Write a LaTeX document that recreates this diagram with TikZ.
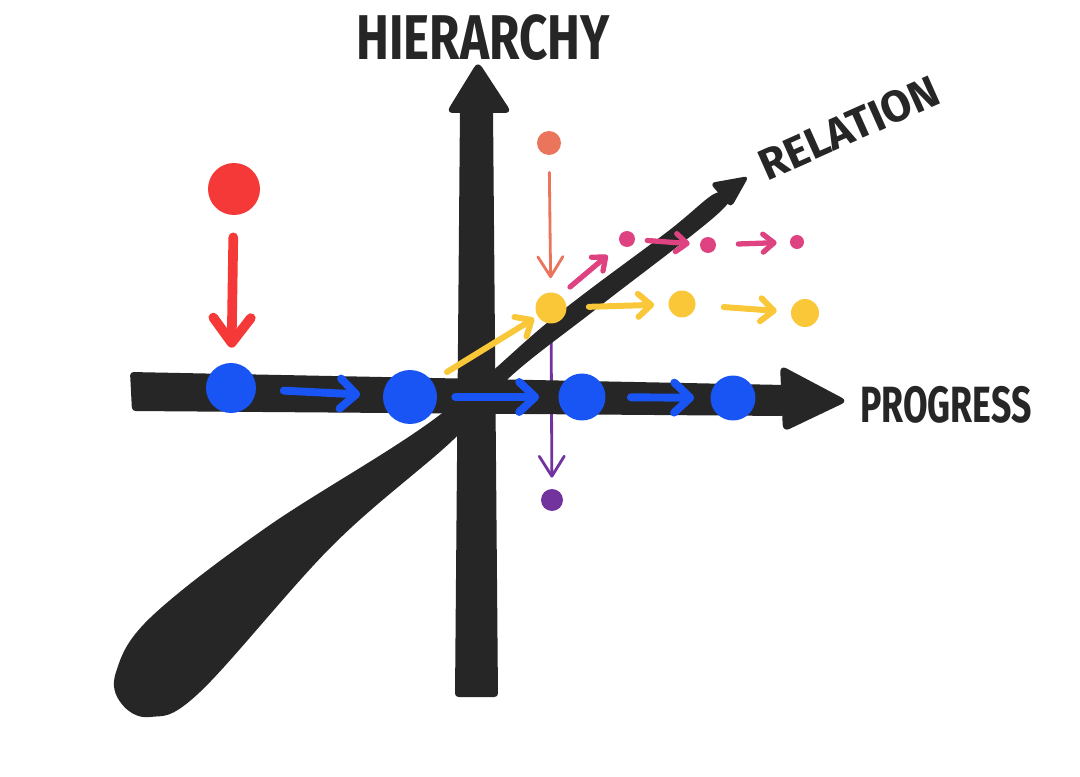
\documentclass[tikz,border=0pt]{standalone}
\usepackage{fontspec}
\usepackage{graphicx}
\usetikzlibrary{arrows.meta}
\newfontfamily\handfont{Fira Sans}
\pgfdeclarelayer{under}
\pgfsetlayers{under,main}
\tikzset{dot/.style = {circle, fill=#1, inner sep=0pt},
         hand/.style = {line cap=round, line join=round},
         bluearrow/.style = {hand, mblue, line width=4.5pt,
                             -{Straight Barb[round, length=3.2mm, width=6mm]}},
         redarrow/.style = {hand, mred, line width=5.5pt,
                            -{Straight Barb[round, length=5mm, width=7.5mm]}},
         yellowarrow/.style = {hand, myellow, line width=3.4pt,
                               -{Straight Barb[round, length=2.6mm, width=4.6mm]}},
         pinkarrow/.style = {hand, mpink, line width=3pt,
                             -{Straight Barb[round, length=2.2mm, width=3.6mm]}},
         thinarrow/.style = {hand, line width=1.6pt,
                             -{Straight Barb[round, length=4mm, width=5mm]}},
         axisname/.style = {mblack, font=\handfont\bfseries, inner sep=0pt}}
\definecolor{mblack}{rgb}{0.15, 0.15, 0.15}
\definecolor{mblue}{rgb}{0.1, 0.33, 0.96}
\definecolor{mred}{rgb}{0.96, 0.22, 0.22}
\definecolor{msalmon}{rgb}{0.92, 0.46, 0.36}
\definecolor{myellow}{rgb}{0.98, 0.78, 0.22}
\definecolor{mpink}{rgb}{0.87, 0.26, 0.5}
\definecolor{mpurple}{rgb}{0.45, 0.2, 0.62}

\begin{document}
\begin{tikzpicture}[x=0.02cm, y=-0.02cm]
    \useasboundingbox (0, 0) rectangle (1080, 777);
    \begin{pgfonlayer}{under}
        \fill [white] (0, 0) rectangle (1080, 777);
    \end{pgfonlayer}

    % the three axes
    \fill [mblack] plot [smooth cycle, tension=0.6] coordinates {(116, 672) (150, 618) (267, 527)
        (433, 420) (553, 318) (667, 232) (716, 193) (722, 210) (600, 306) (510, 377) (453, 440)
        (333, 545) (200, 692) (150, 717) (121, 703)};
    \fill [mblack, rounded corners=3pt] (710, 183) -- (749, 176) -- (731, 208) -- cycle;
    \fill [mblack, rounded corners=2pt] (455, 697) -- (498, 697) -- (493, 108) -- (460, 108) -- cycle;
    \fill [mblack, rounded corners=4pt] (446, 113) -- (478, 61) -- (512, 113) -- cycle;
    \fill [mblack, rounded corners=2pt] (130, 372) -- (785, 385) -- (785, 416) -- (132, 411) -- cycle;
    \fill [mblack, rounded corners=4pt] (780, 365) -- (848, 401) -- (783, 432) -- cycle;

    \node [axisname] (hier) at (483, 38) {\fontsize{36}{36}\selectfont\scalebox{0.78}[1]{HIERARCHY}};
    \node [axisname, rotate=24] (rel) at (849, 128) {\fontsize{25}{25}\selectfont RELATION};
    \node [axisname] (prog) at (946, 405) {\fontsize{29}{29}\selectfont\scalebox{0.7}[1]{PROGRESS}};

    % dots
    \node [dot=mblue, minimum size=1cm] (b1) at (231, 388) {};
    \node [dot=mblue, minimum size=1.08cm] (b2) at (410, 397) {};
    \node [dot=mblue, minimum size=0.94cm] (b3) at (582, 397) {};
    \node [dot=mblue, minimum size=0.9cm] (b4) at (733, 398) {};
    \node [dot=mred, minimum size=1.04cm] (r) at (234, 189) {};
    \node [dot=msalmon, minimum size=0.48cm] (s) at (549, 143) {};
    \node [dot=myellow, minimum size=0.62cm] (y1) at (551, 308) {};
    \node [dot=myellow, minimum size=0.54cm] (y2) at (682, 304) {};
    \node [dot=myellow, minimum size=0.56cm] (y3) at (805, 313) {};
    \node [dot=mpink, minimum size=0.32cm] (p1) at (627, 239) {};
    \node [dot=mpink, minimum size=0.32cm] (p2) at (708, 245) {};
    \node [dot=mpink, minimum size=0.28cm] (p3) at (797, 242) {};
    \node [dot=mpurple, minimum size=0.44cm] (u) at (552, 500) {};
    \coordinate (ystart) at (447, 372);
    \coordinate (pstart) at (570, 287);

    % moves
    \draw [redarrow, shorten <=0.44cm, shorten >=0.3cm] (r) -- (b1);
    \draw [bluearrow, shorten <=0.55cm, shorten >=0.45cm] (b1) -- (b2);
    \draw [bluearrow, shorten <=0.36cm, shorten >=0.38cm] (b2) -- (b3);
    \draw [bluearrow, shorten <=0.5cm, shorten >=0.32cm] (b3) -- (b4);
    \draw [thinarrow, msalmon, shorten <=0.34cm, shorten >=0.28cm] (s) -- (y1);
    \draw [yellowarrow, shorten >=0.08cm] (ystart) -- (y1);
    \draw [yellowarrow, shorten <=0.44cm, shorten >=0.28cm] (y1) -- (y2);
    \draw [yellowarrow, shorten <=0.56cm, shorten >=0.28cm] (y2) -- (y3);
    \draw [pinkarrow, shorten >=0.34cm] (pstart) -- (p1);
    \draw [pinkarrow, shorten <=0.24cm, shorten >=0.2cm] (p1) -- (p2);
    \draw [pinkarrow, shorten <=0.44cm, shorten >=0.26cm] (p2) -- (p3);
    \begin{pgfonlayer}{under}
        \draw [thinarrow, mpurple, shorten <=0.3cm, shorten >=0.22cm] (y1) -- (u); % runs under the axis
    \end{pgfonlayer}
\end{tikzpicture}
\end{document}
